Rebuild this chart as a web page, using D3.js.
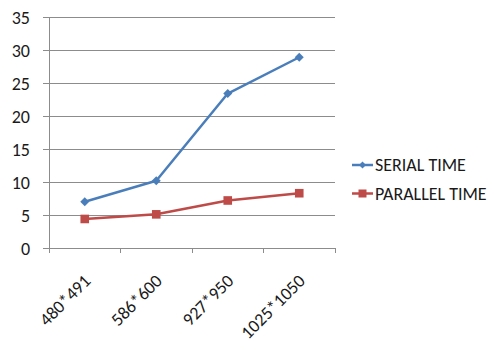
<!DOCTYPE html>
<html>
<head>
<meta charset="utf-8">
<script src="https://cdn.jsdelivr.net/npm/d3@7"></script>
<style>
  html, body { margin: 0; padding: 0; background: #fff; }
  svg { display: block; font-family: Carlito, Lato, sans-serif; }
</style>
</head>
<body>
<svg id="chart" width="494" height="350"></svg>
<script>
// Matrix sizes on the x axis
const categories = ["480*491", "586*600", "927*950", "1025*1050"];
// Execution times
const serialTime = [7.0, 10.2, 23.4, 28.9];
const parallelTime = [4.4, 5.1, 7.2, 8.3];
const yTicks = [0, 5, 10, 15, 20, 25, 30, 35];
const seriesNames = ["SERIAL TIME", "PARALLEL TIME"];

const series = [
  { name: seriesNames[0], values: serialTime, color: "#4A7EBB", marker: "diamond" },
  { name: seriesNames[1], values: parallelTime, color: "#BE4B48", marker: "square" }
];

const FONT = 18;
const TEXT = "#1a1a1a";
const GRID = "#8c8c8c";

const svg = d3.select("#chart");
const plot = { left: 49, right: 335, top: 17, bottom: 248 };

const x = d3.scaleBand().domain(categories).range([plot.left, plot.right]);
const y = d3.scaleLinear().domain([0, 35]).range([plot.bottom, plot.top]);

// Horizontal gridlines
svg.append("g")
  .selectAll("line")
  .data(yTicks.filter(d => d > 0))
  .join("line")
  .attr("x1", plot.left).attr("x2", plot.right)
  .attr("y1", d => y(d)).attr("y2", d => y(d))
  .attr("stroke", GRID).attr("stroke-width", 1)
  .attr("shape-rendering", "crispEdges");

// Y axis
const yAxis = svg.append("g")
  .attr("transform", `translate(${plot.left},0)`)
  .call(d3.axisLeft(y).tickValues(yTicks).tickSize(6).tickPadding(13));
yAxis.select(".domain").attr("stroke", GRID).attr("shape-rendering", "crispEdges");
yAxis.selectAll(".tick line").attr("stroke", GRID).attr("shape-rendering", "crispEdges");
yAxis.selectAll("text")
  .attr("font-size", FONT).attr("fill", TEXT).attr("font-family", "Carlito, Lato, sans-serif")
  .attr("dy", "0.34em");

// X axis with boundary ticks between categories
const xg = svg.append("g").attr("transform", `translate(0,${plot.bottom})`);
xg.append("line")
  .attr("x1", plot.left).attr("x2", plot.right)
  .attr("stroke", GRID).attr("shape-rendering", "crispEdges");
const boundaries = categories.map(c => x(c)).concat([x.range()[1]]);
xg.selectAll("line.tk")
  .data(boundaries)
  .join("line").attr("class", "tk")
  .attr("x1", d => d).attr("x2", d => d).attr("y1", 0).attr("y2", 5)
  .attr("stroke", GRID).attr("shape-rendering", "crispEdges");
xg.selectAll("text")
  .data(categories)
  .join("text")
  .attr("transform", d => `translate(${x(d) + x.bandwidth() / 2 + 7},34) rotate(-45)`)
  .attr("text-anchor", "end")
  .attr("font-size", FONT).attr("fill", TEXT)
  .text(d => d);

// Series lines and markers
const line = d3.line()
  .x((d, i) => x(categories[i]) + x.bandwidth() / 2)
  .y(d => y(d));

function drawMarker(g, type, color, s) {
  if (type === "diamond") {
    g.append("path").attr("d", `M0,${-s}L${s},0L0,${s}L${-s},0Z`).attr("fill", color);
  } else {
    g.append("rect").attr("x", -s).attr("y", -s).attr("width", 2 * s).attr("height", 2 * s).attr("fill", color);
  }
}

series.forEach(s => {
  svg.append("path")
    .datum(s.values)
    .attr("d", line)
    .attr("fill", "none")
    .attr("stroke", s.color)
    .attr("stroke-width", 2.5)
    .attr("stroke-linejoin", "round");
  s.values.forEach((v, i) => {
    const g = svg.append("g")
      .attr("transform", `translate(${x(categories[i]) + x.bandwidth() / 2},${y(v)})`);
    drawMarker(g, s.marker, s.color, s.marker === "diamond" ? 4.5 : 4.3);
  });
});

// Legend
const legend = svg.append("g");
series.forEach((s, i) => {
  const ly = 165 + i * 28.5;
  const g = legend.append("g").attr("transform", `translate(352,${ly})`);
  g.append("line").attr("x1", 0).attr("x2", 21).attr("y1", 0).attr("y2", 0)
    .attr("stroke", s.color).attr("stroke-width", 2.5);
  const m = g.append("g").attr("transform", "translate(10.5,0)");
  drawMarker(m, s.marker, s.color, s.marker === "diamond" ? 3.5 : 4);
  g.append("text")
    .attr("x", 23).attr("y", 0).attr("dy", "0.34em")
    .attr("font-size", FONT).attr("fill", TEXT)
    .text(s.name);
});
</script>
</body>
</html>
